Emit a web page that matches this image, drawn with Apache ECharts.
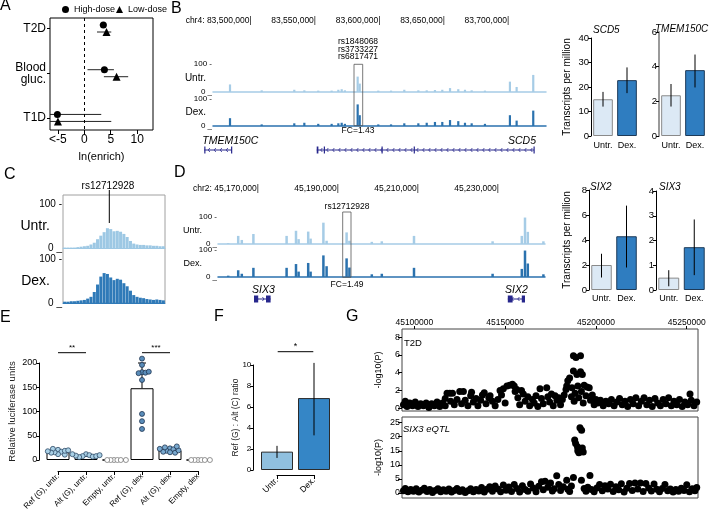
<!DOCTYPE html>
<html>
<head>
<meta charset="utf-8">
<script src="https://cdn.jsdelivr.net/npm/echarts@6/dist/echarts.min.js"></script>
<style>html,body{margin:0;padding:0;background:#fff}#main{width:709px;height:514px}</style>
</head>
<body>
<div id="main"></div>
<script>
// ---------- data ----------
// A: enrichment
var groupsA = ['T2D', 'Blood\ngluc.', 'T1D'];
var highDose = [3.6, 3.8, -5.1];
var highDoseCI = [[2.9, 4.2], [0.6, 5.6], [-9, 3.2]];
var lowDose = [4.2, 6.1, -5.0];
var lowDoseCI = [[2.4, 5.1], [3.7, 8.3], [-9, 5.1]];

// B: chr4 tracks (kb)
var chr4Ticks = [83500, 83550, 83600, 83650, 83700];
var peaksB = [83483.2, 83507.8, 83533.1, 83540.9, 83551.7, 83562.1, 83567.3, 83569.9, 83572.4, 83582.3, 83583.9, 83598.3, 83608.2, 83618.5, 83629.4, 83635.9, 83642.3, 83648.0, 83654.0, 83660.4, 83665.6, 83670.8, 83681.1, 83700.5, 83705.7, 83718.6];
var untrB = [27, 6, 8, 6, 5, 5, 8, 10, 6, 55, 30, 5, 5, 8, 6, 6, 7, 8, 14, 10, 8, 6, 5, 37, 18, 61];
var dexB = [29, 6, 10, 12, 8, 8, 10, 12, 8, 80, 40, 6, 6, 10, 10, 12, 15, 15, 22, 18, 12, 10, 8, 40, 20, 57];
var genesB = [
  {name: 'TMEM150C', start: 83463.2, end: 83484.5, strand: -1, exons: [[83463.2, 83463.8], [83484.0, 83484.5]], label: 'left'},
  {name: 'SCD5', start: 83550.5, end: 83719.2, strand: -1, exons: [[83550.5, 83551.8], [83556.0, 83556.5], [83600.8, 83601.3], [83625.8, 83626.3], [83718.8, 83719.2]], label: 'right'}
];
var condCats = ['Untr.', 'Dex.'];
var scd5Tpm = [15, 22.8], scd5Err = [[12, 18], [17.5, 28]];
var tmemTpm = [2.35, 3.8], tmemErr = [[1.7, 3.0], [2.8, 4.7]];

// C: zoomed coverage around rs12712928
var cUntr = [1, 1, 1, 1, 2, 3, 4, 5, 8, 12, 20, 28, 36, 45, 43, 38, 39, 37, 32, 25, 16, 10, 8, 7, 7, 6, 6, 5, 5, 4, 4];
var cDex = [3, 3, 4, 4, 5, 6, 7, 10, 14, 25, 42, 60, 68, 66, 58, 52, 55, 53, 45, 38, 28, 18, 14, 12, 11, 9, 8, 7, 8, 7, 6];

// D: chr2 tracks (kb)
var chr2Ticks = [45170, 45190, 45210, 45230];
var peaksD = [45162.3, 45164.8, 45165.7, 45168.6, 45176.9, 45179.25, 45179.9, 45182.3, 45182.9, 45186.1, 45186.9, 45191.9, 45192.6, 45198.2, 45200.7, 45208.75, 45228.4, 45235.7, 45236.5, 45237.2, 45241.1];
var untrD = [3, 30, 15, 37, 30, 49, 18, 46, 20, 79, 12, 43, 12, 8, 10, 30, 10, 30, 98, 45, 10];
var dexD = [5, 25, 12, 34, 34, 48, 20, 52, 20, 80, 40, 69, 35, 10, 12, 34, 12, 30, 98, 50, 10];
var genesD = [
  {name: 'SIX3', start: 45168.75, end: 45172.9, strand: 1, exons: [[45168.75, 45169.8], [45171.75, 45172.9]], label: 'left'},
  {name: 'SIX2', start: 45232.2, end: 45236.5, strand: -1, exons: [[45232.2, 45233.4], [45235.7, 45236.5]], label: 'center'}
];
var six2Tpm = [2.0, 4.3], six2Err = [[1.0, 2.9], [1.8, 6.75]];
var six3Tpm = [0.5, 1.73], six3Err = [[0.15, 0.8], [0.6, 2.85]];

// E: luciferase
var lucCats = ['Ref (G), untr.', 'Alt (G), untr.', 'Empty, untr.', 'Ref (G), dex', 'Alt (G), dex', 'Empty, dex'];
var lucMean = [16, 9, 0, 148, 20, 0];
var lucSd = [4, 2, 0, 52, 4, 0];
var lucPoints = [
  [21, 17, 12, 16, 11, 19, 23, 15, 20, 18],
  [12, 10, 8, 7, 6, 8, 9, 10, 12],
  [0, 0, 0, 0, 0, 0],
  [209, 196, 181, 180, 179, 182, 165, 95, 80, 64],
  [24, 22, 19, 16, 15, 17, 20, 26, 28, 23],
  [0, 0, 0, 0, 0, 0]
];

// F: allelic ratio
var ratioCats = ['Untr.', 'Dex.'];
var ratio = [1.75, 6.85];
var ratioCI = [[1.15, 2.3], [3.3, 10.2]];

// G: association plots (kb, -log10 P)
var gTicks = [45100, 45150, 45200, 45250];
var t2dPoints = [[45094,0.4],[45095,0.8],[45096,0.2],[45097.5,0.6],[45099,0.3],[45100.5,0.7],[45102,0.2],[45103.5,0.5],[45105,0.3],[45106.5,0.6],[45108,0.1],[45109.5,0.5],[45111,0.3],[45112.5,0.7],[45114,0.2],[45115.5,0.6],[45117,1.1],[45117,0.3],[45118,1.7],[45119.5,1.7],[45121,1.7],[45120,0.8],[45122,0.4],[45123.5,1.0],[45125,1.9],[45126,0.5],[45127,1.9],[45128,0.9],[45129.5,0.3],[45131,1.4],[45131.5,1.8],[45132.5,0.7],[45134,1.1],[45135,0.3],[45136.5,0.9],[45137.5,1.5],[45138.5,1.75],[45139.5,0.5],[45141,1.2],[45141.7,1.4],[45143,0.8],[45144.5,0.3],[45146,1.0],[45147.2,2.0],[45148,1.5],[45149,2.2],[45150,0.6],[45151,2.5],[45152.5,2.6],[45154,2.7],[45155,2.5],[45155.5,1.9],[45156.4,2.1],[45157,1.2],[45158,0.4],[45159,2.0],[45160,1.6],[45161,0.8],[45162.5,1.3],[45163.5,0.3],[45165,1.0],[45166,0.6],[45167,1.4],[45168,0.2],[45169.2,2.2],[45170,1.1],[45171,0.5],[45172.9,2.3],[45173.5,1.3],[45174.5,0.7],[45175.5,1.6],[45176.5,0.3],[45177.5,1.4],[45178.5,0.9],[45179.5,1.2],[45180.5,0.4],[45181.5,1.0],[45182.5,1.5],[45183.5,2.1],[45183.9,2.5],[45184.5,3.1],[45185.5,3.4],[45186.5,1.3],[45186.8,2.3],[45187.6,5.9],[45187.6,4.2],[45188,0.8],[45188.5,1.7],[45189,5.7],[45189.5,3.8],[45190,2.5],[45190.5,1.2],[45191.5,5.9],[45191.5,4.1],[45192,1.9],[45192.5,3.8],[45193,0.6],[45193.5,2.6],[45194.5,1.4],[45195,2.4],[45196.3,2.3],[45197,0.9],[45198,1.5],[45199,0.4],[45200,1.0],[45201,0.6],[45202.5,0.9],[45204,0.3],[45205.5,0.8],[45207,0.5],[45208.5,1.0],[45210,0.3],[45211.5,0.7],[45213,1.1],[45214.5,0.4],[45216,0.8],[45217.5,0.2],[45219,1.0],[45220.5,0.5],[45222,1.2],[45223.5,0.3],[45225,0.8],[45226.5,1.2],[45228,0.4],[45229.5,0.9],[45231,0.2],[45232.5,1.1],[45234,0.6],[45235.5,0.3],[45237,1.0],[45238.5,0.5],[45240,1.2],[45241.5,0.3],[45243,0.8],[45244.5,0.4],[45246,1.0],[45247.5,0.2],[45249,0.7],[45250.5,0.4],[45251.8,1.6],[45252.5,0.9],[45254,0.3],[45255.5,0.7]];
var eqtlPoints = [[45094,0.8],[45095,1.6],[45096.5,0.4],[45098,1.2],[45099.5,0.6],[45101,1.5],[45102.5,0.3],[45104,1.0],[45105.5,1.7],[45107,0.5],[45108.5,1.2],[45110,0.2],[45111.5,0.9],[45113,1.5],[45114.5,0.4],[45116,1.1],[45117.5,0.6],[45119,1.4],[45120.5,0.3],[45122,0.9],[45123.5,1.6],[45125,0.5],[45126.5,1.1],[45128,0.2],[45129.5,0.8],[45131,1.5],[45132.5,0.4],[45134,1.2],[45135.5,0.7],[45137,1.9],[45138.5,0.3],[45140,1.3],[45141.5,2.2],[45143,0.6],[45144.5,2.5],[45146,1.4],[45147.5,0.4],[45149,2.8],[45150.5,1.0],[45152,2.1],[45153.5,0.5],[45155,3.0],[45156.5,1.6],[45158,0.3],[45159.5,2.6],[45161,1.2],[45162.5,0.6],[45164,3.2],[45165.5,1.8],[45167,0.4],[45168.5,2.4],[45170,4.0],[45171,1.1],[45172,4.2],[45173.5,2.0],[45175,3.5],[45176,0.7],[45177,1.5],[45178.4,6.1],[45179.5,3.0],[45180.5,0.9],[45182,2.2],[45183.9,4.5],[45184.5,1.3],[45185.5,0.5],[45186.5,2.5],[45187.6,5.5],[45188.3,18.8],[45188.8,17.6],[45189.8,16.4],[45190,15.0],[45190.6,14.3],[45191.2,23.2],[45192.1,22.3],[45192,4.5],[45192.5,16.0],[45193,14.6],[45193.5,1.6],[45194.5,0.6],[45195.5,2.0],[45196.7,6.2],[45197.5,1.2],[45199,0.4],[45200.5,1.8],[45202,3.0],[45203.5,0.8],[45205,2.6],[45206.5,1.4],[45208,3.1],[45209.5,0.5],[45211,2.2],[45212.5,1.1],[45214,3.3],[45215.5,0.3],[45217,1.7],[45218.5,3.4],[45220,0.9],[45221.5,3.5],[45223,1.4],[45224.5,3.5],[45226,0.5],[45227.5,3.4],[45229,1.8],[45230.5,0.7],[45232,3.2],[45233.5,1.3],[45235,0.4],[45236.5,1.6],[45238,3.0],[45239.5,0.8],[45241,1.4],[45242.5,0.3],[45244,1.2],[45245.5,0.6],[45247,1.7],[45248.5,0.9],[45250,2.9],[45251.5,0.4],[45253,1.5],[45254.5,0.8],[45255.5,1.9]];

// ---------- chart ----------
var chartDom = document.getElementById('main');
var myChart = echarts.init(chartDom);
var FONT = '"Liberation Sans", Arial, Helvetica, sans-serif';
var BLACK = '#000';
var GENE = '#27278c';
var UNTR_TRACK = '#a6cce6', DEX_TRACK = '#2b72ae';
var grid = [], xAxis = [], yAxis = [], series = [], graphic = [];

function merge(a, b) {
  var r = Object.assign({}, a);
  for (var k in b) {
    var av = a[k], bv = b[k];
    if (bv && typeof bv === 'object' && !Array.isArray(bv) && typeof bv !== 'function' &&
        av && typeof av === 'object' && !Array.isArray(av)) r[k] = merge(av, bv);
    else r[k] = bv;
  }
  return r;
}
var AX = {
  splitLine: {show: false}, nameMoveOverlap: false,
  axisLine: {show: true, onZero: false, lineStyle: {color: BLACK, width: 1}},
  axisTick: {show: true, length: 3, lineStyle: {color: BLACK}},
  axisLabel: {color: BLACK, fontFamily: FONT, fontSize: 9, margin: 3},
  nameTextStyle: {color: BLACK, fontFamily: FONT, fontSize: 10}
};
function G(l, t, w, h, extra) {
  grid.push(merge({left: l, top: t, width: w, height: h, containLabel: false, outerBoundsMode: 'none'}, extra || {}));
  return grid.length - 1;
}
function X(g, o) { xAxis.push(merge(merge(AX, {gridIndex: g, position: 'bottom'}), o)); return xAxis.length - 1; }
function Y(g, o) { yAxis.push(merge(merge(AX, {gridIndex: g, position: 'left'}), o)); return yAxis.length - 1; }
function hiddenAxes(g, xo, yo) {
  return [X(g, merge({type: 'value', show: false, min: 0, max: 1}, xo || {})),
          Y(g, merge({type: 'value', show: false, min: 0, max: 1}, yo || {}))];
}
function txt(x, y, s, size, align, va, italic) {
  graphic.push({type: 'text', x: x, y: y, silent: true, z: 50,
    style: {text: s, fontSize: size, fontFamily: FONT, fill: BLACK, fontStyle: italic ? 'italic' : 'normal',
      align: align || 'left', textAlign: align || 'left', verticalAlign: va || 'middle', textVerticalAlign: va || 'middle'}});
}
function seg(x1, y1, x2, y2, color) {
  graphic.push({type: 'line', silent: true, z: 50, shape: {x1: x1, y1: y1, x2: x2, y2: y2}, style: {stroke: color || BLACK, lineWidth: 1}});
}
function box(x, y, w, h) {
  graphic.push({type: 'rect', silent: true, z: 50, shape: {x: x, y: y, width: w, height: h}, style: {fill: 'rgba(0,0,0,0)', stroke: '#555', lineWidth: 0.8}});
}

// error bars
function hErr(off) {
  return function (params, api) {
    var cs = params.coordSys;
    var a = api.coord([api.value(0), api.value(2)]), b = api.coord([api.value(1), api.value(2)]);
    return {type: 'line', shape: {x1: Math.max(a[0], cs.x), y1: a[1] + off, x2: Math.min(b[0], cs.x + cs.width), y2: a[1] + off},
      style: {stroke: '#222', lineWidth: 1}};
  };
}
function vErr(cap) {
  return function (params, api) {
    var lo = api.coord([api.value(0), api.value(1)]), hi = api.coord([api.value(0), api.value(2)]);
    var kids = [{type: 'line', shape: {x1: lo[0], y1: lo[1], x2: hi[0], y2: hi[1]}, style: {stroke: BLACK, lineWidth: 1}}];
    if (cap) kids.push({type: 'line', shape: {x1: hi[0] - cap, y1: hi[1], x2: hi[0] + cap, y2: hi[1]}, style: {stroke: BLACK, lineWidth: 1}});
    return {type: 'group', children: kids};
  };
}
function geneItem(genes) {
  return function (params, api) {
    var g = genes[params.dataIndex];
    var a = api.coord([g.start, 0.5]), b = api.coord([g.end, 0.5]);
    var y = a[1], kids = [];
    kids.push({type: 'line', shape: {x1: a[0], y1: y, x2: b[0], y2: y}, style: {stroke: GENE, lineWidth: 1}});
    var d = g.strand < 0 ? 1.6 : -1.6;
    for (var x = a[0] + 4; x < b[0] - 3; x += 6) {
      kids.push({type: 'polyline', shape: {points: [[x + d, y - 2], [x, y], [x + d, y + 2]]}, style: {stroke: GENE, fill: null, lineWidth: 0.8}});
    }
    g.exons.forEach(function (e) {
      var p = api.coord([e[0], 0.5])[0], q = api.coord([e[1], 0.5])[0];
      kids.push({type: 'rect', shape: {x: p, y: y - 3.5, width: Math.max(q - p, 1.2), height: 7}, style: {fill: GENE}});
    });
    var tx = g.label === 'left' ? a[0] - 2 : g.label === 'right' ? b[0] + 2 : (a[0] + b[0]) / 2;
    kids.push({type: 'text', x: tx, y: y - 9, style: {text: g.name, fontStyle: 'italic', fontSize: 10.5, fontFamily: FONT, fill: BLACK,
      align: g.label, textAlign: g.label, verticalAlign: 'middle', textVerticalAlign: 'middle'}});
    return {type: 'group', children: kids};
  };
}

// ----- A -----
var gA = G(50, 18, 103, 112, {show: true, borderColor: BLACK, borderWidth: 1});
var xA = X(gA, {type: 'value', min: -6.5, max: 13, axisLine: {show: false},
  axisTick: {customValues: [-5, 0, 5, 10], length: 4},
  axisLabel: {customValues: [-5, 0, 5, 10], fontSize: 12, margin: 4, formatter: function (v) { return v === -5 ? '<-5' : String(v); }},
  name: 'ln(enrich)', nameLocation: 'middle', nameGap: 21, nameTextStyle: {fontSize: 11}});
var yA = Y(gA, {type: 'value', min: -0.235, max: 2.27, inverse: true, axisLine: {show: false},
  axisTick: {customValues: [0, 1, 2], length: 3},
  axisLabel: {customValues: [0, 1, 2], fontSize: 12, margin: 4, lineHeight: 12, formatter: function (v) { return groupsA[Math.round(v)]; }}});
series.push({name: 'High-dose', type: 'scatter', xAxisIndex: xA, yAxisIndex: yA, symbol: 'circle', symbolSize: 7, symbolOffset: [0, -3.5],
  itemStyle: {color: BLACK, opacity: 1}, z: 4, data: highDose.map(function (v, i) { return [v, i]; }),
  markLine: {silent: true, symbol: ['none', 'none'], label: {show: false}, lineStyle: {color: BLACK, type: [3, 3], width: 1}, data: [{xAxis: 0}]}});
series.push({name: 'Low-dose', type: 'scatter', xAxisIndex: xA, yAxisIndex: yA, symbol: 'triangle', symbolSize: 8, symbolOffset: [0, 3.5],
  itemStyle: {color: BLACK, opacity: 1}, z: 4, data: lowDose.map(function (v, i) { return [v, i]; })});
series.push({type: 'custom', xAxisIndex: xA, yAxisIndex: yA, renderItem: hErr(-3.5), encode: {x: [0, 1], y: 2}, z: 3,
  data: highDoseCI.map(function (c, i) { return [c[0], c[1], i]; })});
series.push({type: 'custom', xAxisIndex: xA, yAxisIndex: yA, renderItem: hErr(3.5), encode: {x: [0, 1], y: 2}, z: 3,
  data: lowDoseCI.map(function (c, i) { return [c[0], c[1], i]; })});

// ----- tracks helper -----
function track(l, t, w, h, min, max, color, name, nameGap, lblSize, nameSize, pos, vals, barW) {
  var g = G(l, t, w, h);
  var xi = X(g, {type: 'value', min: min, max: max, axisLine: {lineStyle: {color: color, width: 1.5}}, axisTick: {show: false}, axisLabel: {show: false}});
  var yi = Y(g, {type: 'value', min: 0, max: 100, axisLine: {show: false}, axisTick: {show: false},
    axisLabel: {customValues: [0, 100], fontSize: lblSize, margin: 1, formatter: function (v) { return v ? '100 -' : '0 _'; }},
    name: name, nameLocation: 'middle', nameRotate: 0, nameGap: nameGap, nameTextStyle: {fontSize: nameSize, align: 'right', verticalAlign: 'middle'}});
  series.push({type: 'bar', xAxisIndex: xi, yAxisIndex: yi, barWidth: barW, itemStyle: {color: color}, z: 2,
    data: pos ? pos.map(function (p, i) { return [p, vals[i]]; }) : vals});
  return [g, xi, yi];
}
// labelsAsText: category names written under the bars as plain text
function tpmPanel(l, t, w, h, max, step, vals, errs, yName, nameGap, axisOver, labelsAsText) {
  var g = G(l, t, w, h);
  var xi = X(g, {type: 'category', data: condCats, axisLine: {show: false}, axisTick: {show: false},
    axisLabel: {show: !labelsAsText, fontSize: 9, margin: 4, interval: 0, hideOverlap: false}});
  if (labelsAsText) {
    condCats.forEach(function (c, i) { txt(l + w * (2 * i + 1) / (2 * condCats.length), t + h + 9.5, c, 9, 'center'); });
  }
  var yo = {type: 'value', min: 0, max: max, interval: step, axisLabel: {fontSize: 9.5, margin: 2}};
  if (yName) yo = merge(yo, {name: yName, nameLocation: 'middle', nameGap: nameGap, nameTextStyle: {fontSize: 10}});
  if (axisOver) yo = merge(yo, axisOver);
  var yi = Y(g, yo);
  series.push({type: 'bar', xAxisIndex: xi, yAxisIndex: yi, barCategoryGap: '18%', z: 2,
    data: vals.map(function (v, i) {
      return {value: v, itemStyle: i ? {color: '#2f7dc0', borderColor: '#1d3a58', borderWidth: 1} : {color: '#dce9f5', borderColor: '#8a8a8a', borderWidth: 1}};
    })});
  series.push({type: 'custom', xAxisIndex: xi, yAxisIndex: yi, renderItem: vErr(0), encode: {x: 0, y: [1, 2]}, z: 5,
    data: errs.map(function (e, i) { return [i, e[0], e[1]]; })});
}

// ----- B -----
var tBu = track(213, 64, 333, 28, 83470, 83728.5, UNTR_TRACK, 'Untr.', 7, 8, 10, peaksB, untrB, 2.2);
X(tBu[0], {type: 'value', min: 83470, max: 83728.5, position: 'top', offset: 37, axisLine: {show: false}, axisTick: {show: false},
  axisLabel: {customValues: chr4Ticks, align: 'right', fontSize: 8.5, margin: 2,
    formatter: function (v) { return (v === chr4Ticks[0] ? 'chr4: ' : '') + Math.round(v * 1000).toLocaleString('en-US') + '|'; }}});
track(213, 99, 333, 27, 83470, 83728.5, DEX_TRACK, 'Dex.', 7, 8, 10, peaksB, dexB, 2.2);
var gBg = G(200, 143, 346, 14);
var axBg = hiddenAxes(gBg, {min: 83459.9, max: 83728.5});
series.push({type: 'custom', xAxisIndex: axBg[0], yAxisIndex: axBg[1], renderItem: geneItem(genesB), encode: {x: [0, 1]},
  data: genesB.map(function (g) { return [g.start, g.end]; })});
tpmPanel(591, 38, 48, 98, 40, 10, scd5Tpm, scd5Err, 'Transcripts per million', 19, null, true);
tpmPanel(659, 32, 48, 104, 6, 2, tmemTpm, tmemErr, null, 0, {axisLine: {lineStyle: {color: '#9a9a9a', width: 2}}}, true);

// ----- C -----
var gCbox = G(63, 195, 102, 108, {show: true, borderColor: '#a0a0a0', borderWidth: 1});
hiddenAxes(gCbox);
var binsC = cUntr.map(function (v, i) { return i; });
function cTrack(t, color, vals, name) {
  var g = G(63, t, 102, 44);
  var xi = X(g, {type: 'category', data: binsC, axisLine: {lineStyle: {color: color}}, axisTick: {show: false}, axisLabel: {show: false}});
  var yi = Y(g, {type: 'value', min: 0, max: 100, axisLine: {show: false}, axisTick: {show: false},
    axisLabel: {customValues: [0, 100], fontSize: 10, margin: 1, formatter: function (v) { return v ? '100 -' : '0 _'; }},
    name: name, nameLocation: 'middle', nameRotate: 0, nameGap: 13, nameTextStyle: {fontSize: 14, align: 'right', verticalAlign: 'middle'}});
  series.push({type: 'bar', xAxisIndex: xi, yAxisIndex: yi, barCategoryGap: '8%', itemStyle: {color: color}, data: vals});
}
cTrack(204, '#9dc8e4', cUntr, 'Untr.');
cTrack(259, '#2f7ab8', cDex, 'Dex.');

// ----- D -----
var tDu = track(218, 217, 327, 27, 45159.75, 45241.5, UNTR_TRACK, 'Untr.', 16, 8, 9, peaksD, untrD, 2.5);
X(tDu[0], {type: 'value', min: 45159.75, max: 45241.5, position: 'top', offset: 22, axisLine: {show: false}, axisTick: {show: false},
  axisLabel: {customValues: chr2Ticks, align: 'right', fontSize: 8.5, margin: 2,
    formatter: function (v) { return (v === chr2Ticks[0] ? 'chr2: ' : '') + Math.round(v * 1000).toLocaleString('en-US') + '|'; }}});
track(218, 250, 327, 27, 45159.75, 45241.5, DEX_TRACK, 'Dex.', 16, 8, 9, peaksD, dexD, 2.5);
var gDg = G(218, 292, 327, 14);
var axDg = hiddenAxes(gDg, {min: 45159.75, max: 45241.5});
series.push({type: 'custom', xAxisIndex: axDg[0], yAxisIndex: axDg[1], renderItem: geneItem(genesD), encode: {x: [0, 1]},
  data: genesD.map(function (g) { return [g.start, g.end]; })});
tpmPanel(589, 190, 50, 100, 8, 2, six2Tpm, six2Err, 'Transcripts per million', 17);
tpmPanel(656, 191, 51, 99, 4, 1, six3Tpm, six3Err, null, 0);

// ----- E -----
var E_L = 58, E_T = 363, E_W = 140, E_H = 97, E_MAX = 200;
var gE = G(E_L, E_T, E_W, E_H);
var xE = X(gE, {type: 'category', data: lucCats, boundaryGap: false, offset: 11,
  axisTick: {alignWithLabel: true, length: 4, interval: 0}, axisLabel: {rotate: 45, fontSize: 8, margin: 4, interval: 0}});
var xEj = X(gE, {type: 'value', show: false, min: 0, max: lucCats.length - 1});
var yE = Y(gE, {type: 'value', min: 0, max: E_MAX, interval: 50, offset: 18.7, axisLabel: {fontSize: 9, margin: 2},
  name: 'Relative luciferase units', nameLocation: 'middle', nameGap: 22, nameTextStyle: {fontSize: 9.5, color: '#222'}});
series.push({type: 'bar', xAxisIndex: xE, yAxisIndex: yE, barWidth: 23, clip: false, z: 2,
  itemStyle: {color: '#fff', borderColor: BLACK, borderWidth: 1}, data: lucMean});
series.push({type: 'custom', xAxisIndex: xE, yAxisIndex: yE, renderItem: vErr(4), encode: {x: 0, y: [1, 2]}, z: 3,
  data: lucMean.map(function (m, i) { return [i, m, m + lucSd[i]]; }).filter(function (d, i) { return lucSd[i] > 0; })});
var pxPerX = E_W / (lucCats.length - 1), pxPerY = E_H / E_MAX;
function swarm(vals, d) {
  var placed = [], out = [];
  vals.forEach(function (v) {
    var yp = v * pxPerY, off = 0;
    for (var k = 0; k < 60; k++) {
      off = (k % 2 ? 1 : -1) * Math.ceil(k / 2) * d / 2;
      var ok = placed.every(function (p) { return Math.hypot(p[0] - off, p[1] - yp) >= d; });
      if (ok) break;
    }
    placed.push([off, yp]);
    out.push(off / pxPerX);
  });
  return out;
}
var lucStyles = [
  {color: '#a9d0e6', borderColor: '#2e4a66', borderWidth: 0.8, opacity: 1},
  {color: '#a9d0e6', borderColor: '#2e4a66', borderWidth: 0.8, opacity: 1},
  {color: '#fff', borderColor: '#777', borderWidth: 0.8, opacity: 1},
  {color: '#5a8dba', borderColor: '#1f3550', borderWidth: 0.8, opacity: 1},
  {color: '#79a9cf', borderColor: '#1f3550', borderWidth: 0.8, opacity: 1},
  {color: '#fff', borderColor: '#777', borderWidth: 0.8, opacity: 1}
];
var lucData = [];
lucPoints.forEach(function (vals, gi) {
  var offs = swarm(vals, 3.4);
  vals.forEach(function (v, j) { lucData.push({value: [gi + offs[j], v], itemStyle: lucStyles[gi]}); });
});
series.push({type: 'scatter', xAxisIndex: xEj, yAxisIndex: yE, symbolSize: 5, clip: false, z: 4, data: lucData});

// ----- F -----
var gF = G(277, 365, 37, 105);
var xF = X(gF, {type: 'category', data: ratioCats, boundaryGap: false, offset: 5,
  axisTick: {alignWithLabel: true, length: 4}, axisLabel: {rotate: 45, fontSize: 8.5, margin: 4, interval: 0}});
var yF = Y(gF, {type: 'value', min: 0, max: 10, interval: 2, offset: 23.7, axisLabel: {fontSize: 8, margin: 2},
  name: 'Ref (G) : Alt (C) ratio', nameLocation: 'middle', nameGap: 13, nameTextStyle: {fontSize: 8.5, color: '#222'}});
series.push({type: 'bar', xAxisIndex: xF, yAxisIndex: yF, barWidth: 32, clip: false, z: 2,
  data: ratio.map(function (v, i) {
    return {value: v, itemStyle: {color: i ? '#3586c6' : '#90c0df', borderColor: '#2b2b2b', borderWidth: 1}};
  })});
series.push({type: 'custom', xAxisIndex: xF, yAxisIndex: yF, renderItem: vErr(0), encode: {x: 0, y: [1, 2]}, z: 3,
  data: ratioCI.map(function (c, i) { return [i, c[0], c[1]]; })});

// ----- G -----
function assocPanel(t, h, min, max, ticks, pts, showTop) {
  var g = G(402, t, 296, h, {show: true, borderColor: '#444', borderWidth: 1});
  var xo = {type: 'value', min: 45093.2, max: 45256.2, axisLine: {show: false}, axisTick: {show: false}, axisLabel: {show: false}};
  if (showTop) xo = merge(xo, {position: 'top', axisTick: {show: true, customValues: gTicks, length: 3},
    axisLabel: {show: true, customValues: gTicks, fontSize: 8.5, margin: 2, formatter: function (v) { return String(Math.round(v * 1000)); }}});
  var xi = X(g, xo);
  var yi = Y(g, {type: 'value', min: min, max: max, axisLine: {show: false},
    axisTick: {customValues: ticks, length: 4}, axisLabel: {customValues: ticks, fontSize: 9, margin: 2},
    name: '-log10(P)', nameLocation: 'middle', nameGap: 19, nameTextStyle: {fontSize: 9}});
  series.push({type: 'scatter', xAxisIndex: xi, yAxisIndex: yi, symbolSize: 7,
    itemStyle: {color: BLACK, opacity: 1, borderWidth: 0}, data: pts});
}
assocPanel(329, 82, -0.3, 8.9, [0, 2, 4, 6, 8], t2dPoints, true);
assocPanel(417, 81, -1.8, 27, [0, 5, 10, 15, 20, 25], eqtlPoints, false);

// ----- annotations -----
[['A', 0, -2], ['B', 171, 1], ['C', 4, 167], ['D', 174, 165], ['E', 0, 310], ['F', 214, 309], ['G', 346, 309]].forEach(function (p) {
  txt(p[1], p[2], p[0], 16, 'left', 'top');
});
txt(358, 41.7, 'rs1848068', 8.5, 'center');
txt(358, 49.3, 'rs3733227', 8.5, 'center');
txt(358, 56.7, 'rs6817471', 8.5, 'center');
box(354, 64.3, 8.7, 61.4);
txt(358, 131, 'FC=1.43', 8.5, 'center');
txt(593, 30, 'SCD5', 10, 'left', 'middle', true);
txt(655, 29, 'TMEM150C', 10, 'left', 'middle', true);
txt(108, 186, 'rs12712928', 10, 'center');
seg(109.3, 190, 109.3, 223);
txt(347, 207, 'rs12712928', 8.5, 'center');
box(342.7, 212, 8.3, 65.3);
txt(347, 285, 'FC=1.49', 8.5, 'center');
txt(590, 187, 'SIX2', 10, 'left', 'middle', true);
txt(659, 187, 'SIX3', 10, 'left', 'middle', true);
[[0, 1, '**'], [3, 4, '***']].forEach(function (s) {
  var x1 = E_L + s[0] * pxPerX, x2 = E_L + s[1] * pxPerX;
  seg(x1, 352.7, x2, 352.7);
  txt((x1 + x2) / 2, 348, s[2], 8, 'center');
});
seg(277.7, 351.7, 313.3, 351.7);
txt(295.5, 347, '*', 9, 'center');
txt(404, 343, 'T2D', 9.5);
txt(403, 429, 'SIX3 eQTL', 9.5, 'left', 'middle', true);

var option = {
  animation: false,
  backgroundColor: '#fff',
  textStyle: {fontFamily: FONT},
  legend: {left: 62, top: 5, padding: 0, itemWidth: 7, itemHeight: 7, itemGap: 1,
    textStyle: {fontSize: 9, color: BLACK, fontFamily: FONT},
    data: [{name: 'High-dose', icon: 'circle'}, {name: 'Low-dose', icon: 'triangle'}]},
  grid: grid,
  xAxis: xAxis,
  yAxis: yAxis,
  series: series,
  graphic: {elements: graphic}
};
myChart.setOption(option);
</script>
</body>
</html>
